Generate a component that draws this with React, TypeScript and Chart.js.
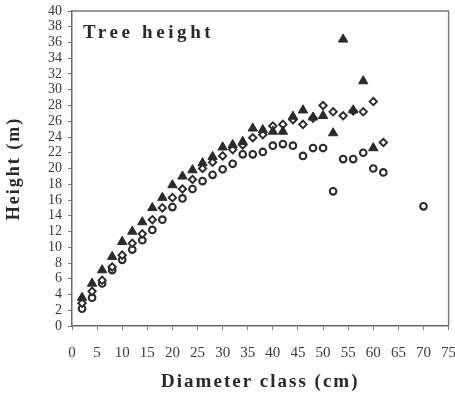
import React, { useEffect, useRef } from "react";
import { Chart, registerables } from "chart.js";

Chart.register(...registerables);

const chartTitle = "Tree height";
const xAxisTitle = "Diameter class (cm)";
const yAxisTitle = "Height (m)";

const triangleDiameters = [2, 4, 6, 8, 10, 12, 14, 16, 18, 20, 22, 24, 26, 28, 30, 32, 34, 36, 38, 40, 42, 44, 46, 48, 50, 52, 54, 56, 58, 60];
const triangleHeights = [3.6, 5.4, 7.1, 8.8, 10.7, 12.0, 13.2, 15.0, 16.3, 17.9, 19.0, 19.8, 20.7, 21.5, 22.7, 23.0, 23.4, 25.1, 24.9, 24.7, 24.7, 26.6, 27.4, 26.5, 26.7, 24.5, 36.4, 27.4, 31.1, 22.6];

const diamondDiameters = [2, 4, 6, 8, 10, 12, 14, 16, 18, 20, 22, 24, 26, 28, 30, 32, 34, 36, 38, 40, 42, 44, 46, 48, 50, 52, 54, 56, 58, 60, 62];
const diamondHeights = [2.9, 4.4, 5.8, 7.5, 9.0, 10.5, 11.7, 13.5, 15.0, 16.3, 17.4, 18.6, 20.0, 20.8, 21.6, 22.4, 23.0, 23.9, 24.3, 25.4, 25.6, 26.2, 25.6, 26.4, 28.0, 27.2, 26.7, 27.3, 27.2, 28.5, 23.3];

const circleDiameters = [2, 4, 6, 8, 10, 12, 14, 16, 18, 20, 22, 24, 26, 28, 30, 32, 34, 36, 38, 40, 42, 44, 46, 48, 50, 52, 54, 56, 58, 60, 62, 70];
const circleHeights = [2.2, 3.6, 5.4, 7.1, 8.4, 9.7, 10.9, 12.2, 13.5, 15.1, 16.2, 17.4, 18.4, 19.2, 19.9, 20.6, 21.8, 21.8, 22.1, 22.9, 23.1, 22.9, 21.6, 22.6, 22.6, 17.1, 21.2, 21.2, 22.0, 20.0, 19.5, 15.2];

const xMin = 0;
const xMax = 75;
const xStep = 5;
const yMin = 0;
const yMax = 40;
const yStep = 2;

const toPoints = (xs: number[], ys: number[]) => xs.map((x, i) => ({ x, y: ys[i] }));

const ink = "#2a2a2a";
const serif = "'Liberation Serif', 'DejaVu Serif', serif";

const spacedTitles = {
  id: "spacedTitles",
  afterLayout(chart: any) {
    Object.values(chart.scales).forEach((s: any) => {
      if (s._spacedPatched) return;
      const orig = s.drawTitle.bind(s);
      s.drawTitle = function (...args: any[]) {
        const ctx = this.ctx;
        ctx.save();
        ctx.letterSpacing = "2px";
        orig(...args);
        ctx.restore();
      };
      s._spacedPatched = true;
    });
  },
};

const frameAndLabel = {
  id: "frameAndLabel",
  afterDraw(chart: any) {
    const { ctx, chartArea } = chart;
    ctx.save();
    ctx.strokeStyle = "#7a7a7a";
    ctx.lineWidth = 1.5;
    ctx.beginPath();
    ctx.moveTo(chartArea.left, chartArea.top);
    ctx.lineTo(chartArea.right, chartArea.top);
    ctx.lineTo(chartArea.right, chartArea.bottom);
    ctx.stroke();
    ctx.fillStyle = ink;
    ctx.font = `bold 19px ${serif}`;
    ctx.letterSpacing = "3.6px";
    ctx.textBaseline = "middle";
    ctx.textAlign = "left";
    ctx.fillText(chartTitle, chartArea.left + 11, chartArea.top + 22);
    ctx.restore();
  },
};

export default function App() {
  const canvasRef = useRef<HTMLCanvasElement | null>(null);

  useEffect(() => {
    const canvas = canvasRef.current;
    if (!canvas) return;
    const chart = new Chart(canvas, {
      type: "scatter",
      data: {
        datasets: [
          {
            label: "Triangles",
            data: toPoints(triangleDiameters, triangleHeights),
            pointStyle: "triangle",
            pointRadius: 5.4,
            backgroundColor: ink,
            borderColor: ink,
            borderWidth: 1,
          },
          {
            label: "Diamonds",
            data: toPoints(diamondDiameters, diamondHeights),
            pointStyle: "rectRot",
            pointRadius: 3.7,
            backgroundColor: "#ffffff",
            borderColor: ink,
            borderWidth: 1.9,
          },
          {
            label: "Circles",
            data: toPoints(circleDiameters, circleHeights),
            pointStyle: "circle",
            pointRadius: 3.3,
            backgroundColor: "#ffffff",
            borderColor: ink,
            borderWidth: 2.1,
          },
        ],
      },
      options: {
        animation: false,
        responsive: true,
        maintainAspectRatio: false,
        layout: { padding: { top: 11, right: 6, left: 0, bottom: 0 } },
        plugins: {
          legend: { display: false },
          tooltip: { enabled: false },
        },
        scales: {
          x: {
            type: "linear",
            min: xMin,
            max: xMax,
            afterFit: (s: any) => {
              s.height = 72;
              s.paddingLeft = 0;
              s.paddingRight = 0;
            },
            ticks: {
              stepSize: xStep,
              autoSkip: false,
              maxRotation: 0,
              padding: 14,
              color: "#3a3a3a",
              font: { family: serif, size: 15 },
            },
            grid: {
              display: true,
              drawOnChartArea: false,
              drawTicks: true,
              tickLength: 4,
              color: "#777777",
            },
            border: { display: true, color: "#6a6a6a", width: 1.5 },
            title: {
              display: true,
              text: xAxisTitle,
              color: ink,
              font: { family: serif, size: 19, weight: "bold" },
              padding: { top: 0, bottom: 5 },
            },
          },
          y: {
            type: "linear",
            min: yMin,
            max: yMax,
            afterFit: (s: any) => {
              s.width = 72;
              s.paddingTop = 0;
              s.paddingBottom = 0;
            },
            ticks: {
              stepSize: yStep,
              autoSkip: false,
              padding: 6,
              color: "#3a3a3a",
              font: { family: serif, size: 14 },
            },
            grid: {
              display: true,
              drawOnChartArea: false,
              drawTicks: true,
              tickLength: 4,
              color: "#777777",
            },
            border: { display: true, color: "#6a6a6a", width: 1.5 },
            title: {
              display: true,
              text: yAxisTitle,
              color: ink,
              font: { family: serif, size: 18, weight: "bold" },
              padding: { top: 4, bottom: 0 },
            },
          },
        },
      },
      plugins: [spacedTitles, frameAndLabel],
    });
    chart.draw();
    return () => chart.destroy();
  }, []);

  return (
    <div style={{ position: "fixed", left: 0, top: 0, width: 455, height: 398, background: "#ffffff" }}>
      <canvas ref={canvasRef} />
    </div>
  );
}
